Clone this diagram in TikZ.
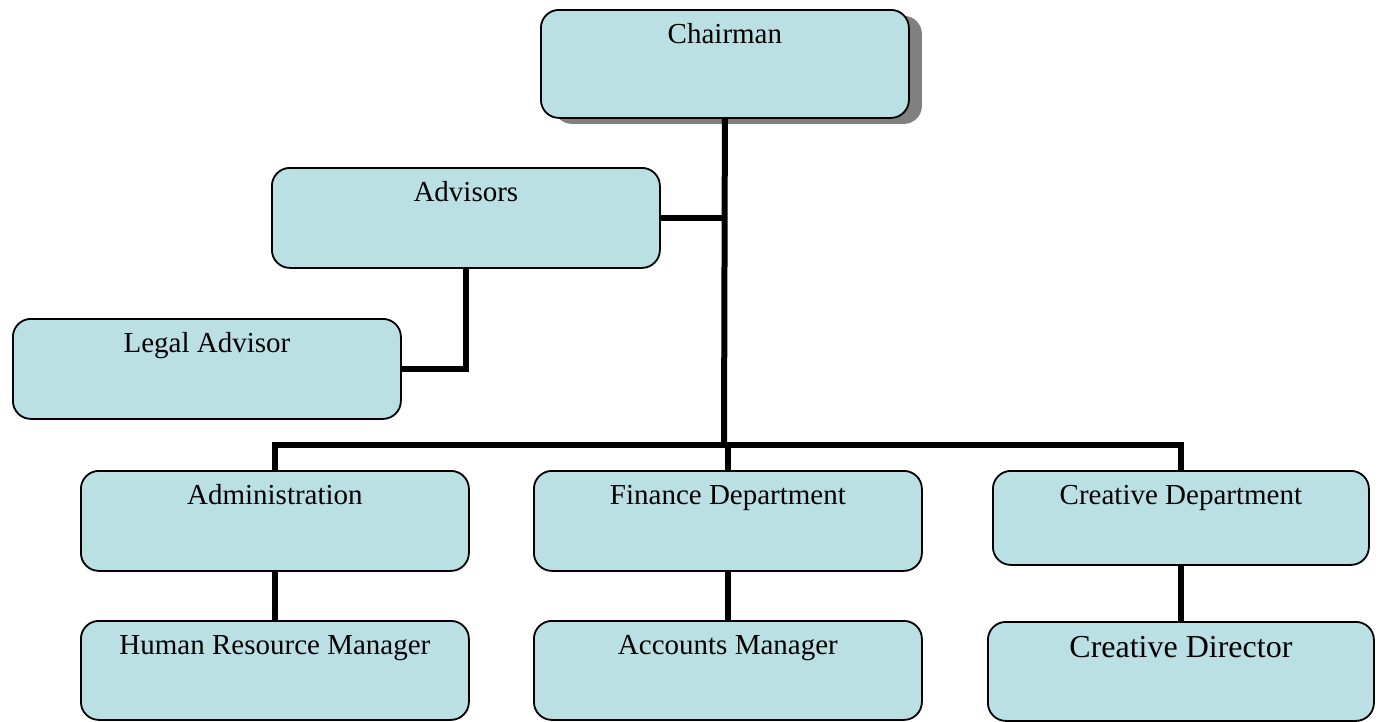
\documentclass[tikz,border=0pt]{standalone}
\usepackage{fontspec}
\setmainfont{Liberation Serif}
\usetikzlibrary{shadows}
\definecolor{boxblue}{RGB}{186,224,227}
\definecolor{shadowgray}{RGB}{128,128,128}

\begin{document}
\begin{tikzpicture}[
    x=1pt, y=-1pt,
    every node/.style={
        draw,
        rectangle,
        rounded corners=18pt,
        line width=1.8pt,
        fill=boxblue,
        anchor=north west,
        inner sep=0pt,
        minimum width=388pt,
        text height=34pt,
        text depth=66pt,
        font=\fontsize{29}{34}\selectfont
    },
    conn/.style={line width=6pt, line join=miter}
]
\useasboundingbox (0,0) rectangle (1384,721);

% 상자
\node[minimum width=368pt, text depth=74pt,
      drop shadow={shadow xshift=13pt, shadow yshift=-6pt, fill=shadowgray, opacity=1}]
      (chair) at (540,9) {Chairman};
\node (advisors) at (271,167) {Advisors};
\node (legal) at (12,318) {Legal Advisor};
\node (admin) at (80,470) {Administration};
\node (finance) at (533,470) {Finance Department};
\node[minimum width=376pt, text depth=60pt] (creative) at (992,470) {Creative Department};
\node[text depth=65pt] (hr) at (80,620) {Human Resource Manager};
\node[text depth=65pt] (accounts) at (533,620) {Accounts Manager};
\node[minimum width=386pt, text height=36pt, text depth=63pt,
      font=\fontsize{32}{38}\selectfont] (director) at (987,621) {Creative Director};

\coordinate (hub) at (724,445);

% 연결선
\draw[conn] (chair.south) -- (hub);
\draw[conn] (advisors.east) -- (advisors.east -| hub);
\draw[conn] (advisors.south) |- (legal.east);
\draw[conn] (admin.north) |- (hub) -| (creative.north);
\draw[conn] (finance.north) -- (finance.north |- hub);

\draw[conn] (admin) -- (hr);
\draw[conn] (finance) -- (accounts);
\draw[conn] (creative) -- (director);

\end{tikzpicture}
\end{document}
